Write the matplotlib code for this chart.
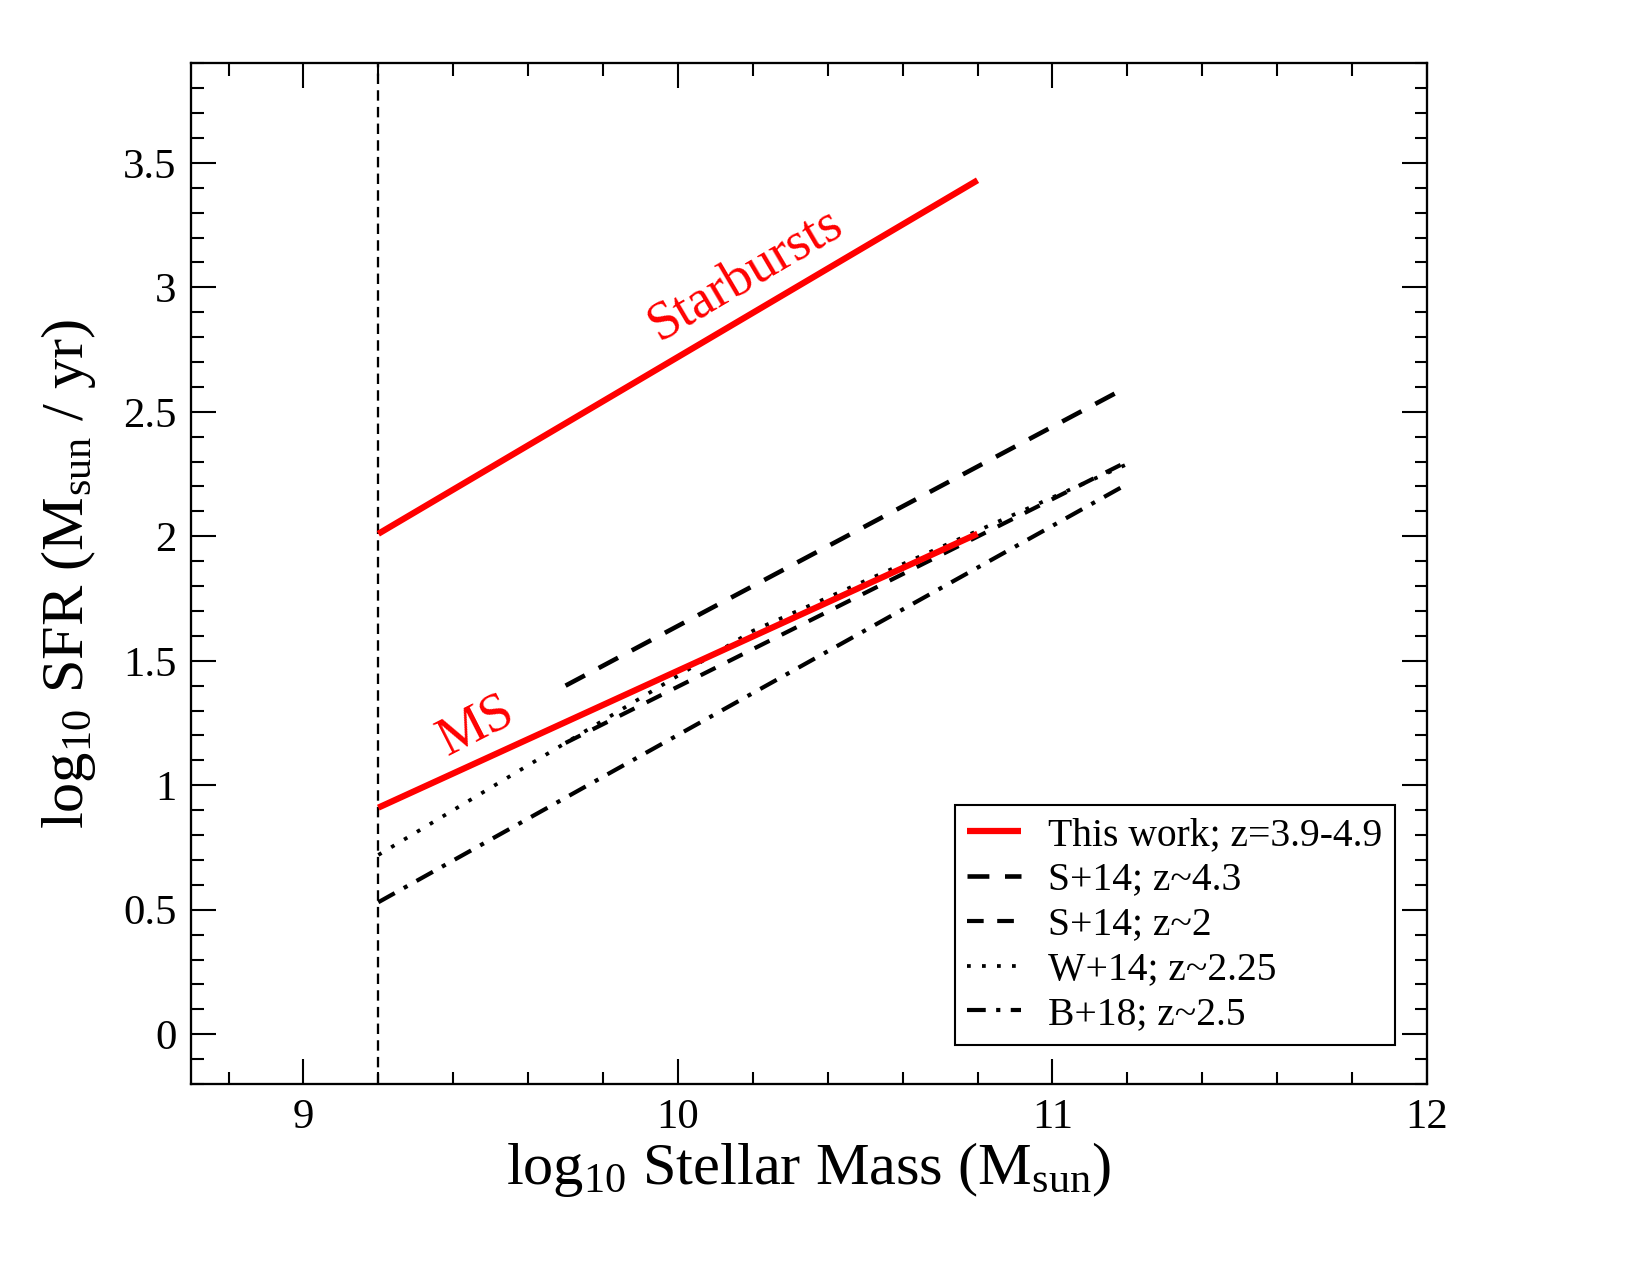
import matplotlib
matplotlib.use("Agg")
import matplotlib.pyplot as plt
from matplotlib.ticker import MultipleLocator, FuncFormatter

plt.rcParams['font.family'] = ['Liberation Serif', 'DejaVu Serif']
plt.rcParams['mathtext.fontset'] = 'custom'
plt.rcParams['mathtext.rm'] = 'Liberation Serif'
plt.rcParams['mathtext.it'] = 'Liberation Serif:italic'
plt.rcParams['lines.scale_dashes'] = False

# ---- data ----
mass_ms = [9.2, 10.8]
sfr_ms = [0.91, 2.01]
mass_sb = [9.2, 10.8]
sfr_sb = [2.01, 3.43]
mass_s14_z43 = [9.7, 11.2]
sfr_s14_z43 = [1.40, 2.60]
mass_s14_z2 = [9.7, 11.2]
sfr_s14_z2 = [1.17, 2.30]
mass_w14 = [9.2, 10.2, 11.2]
sfr_w14 = [0.72, 1.62, 2.29]
mass_b18 = [9.2, 11.2]
sfr_b18 = [0.53, 2.21]
mass_cut = 9.2

labels = ["This work; z=3.9-4.9", "S+14; z~4.3", "S+14; z~2",
          "W+14; z~2.25", "B+18; z~2.5"]

fig = plt.figure(figsize=(11, 8.5), dpi=150)
ax = fig.add_axes([0.1158, 0.1498, 0.8648 - 0.1158, 0.9504 - 0.1498])

ax.axvline(mass_cut, color='black', lw=1.1, dashes=(5, 3))

h1, = ax.plot(mass_ms, sfr_ms, color='red', lw=3.0, solid_capstyle='butt', zorder=3)
ax.plot(mass_sb, sfr_sb, color='red', lw=3.0, solid_capstyle='butt', zorder=3)
h2, = ax.plot(mass_s14_z43, sfr_s14_z43, color='black', lw=2.2,
              dashes=(10.5, 7.5), dash_capstyle='butt')
h3, = ax.plot(mass_s14_z2, sfr_s14_z2, color='black', lw=2.0,
              dashes=(8.0, 6.5), dash_capstyle='butt')
h4, = ax.plot(mass_w14, sfr_w14, color='black', lw=1.8,
              dashes=(1.8, 5.4), dash_capstyle='butt')
h5, = ax.plot(mass_b18, sfr_b18, color='black', lw=2.0,
              dashes=(9, 5, 2, 5), dash_capstyle='butt')

ax.text(10.18, 3.05, "Starbursts", color='red', fontsize=26,
        rotation=30.5, ha='center', va='center', rotation_mode='anchor')
ax.text(9.46, 1.24, "MS", color='red', fontsize=26,
        rotation=27, ha='center', va='center', rotation_mode='anchor')

ax.set_xlim(8.7, 12.0)
ax.set_ylim(-0.2, 3.9)
ax.xaxis.set_major_locator(MultipleLocator(1))
ax.xaxis.set_minor_locator(MultipleLocator(0.2))
ax.yaxis.set_major_locator(MultipleLocator(0.5))
ax.yaxis.set_minor_locator(MultipleLocator(0.1))
fmt = FuncFormatter(lambda v, p: "%g" % round(v, 3))
ax.xaxis.set_major_formatter(fmt)
ax.yaxis.set_major_formatter(fmt)
ax.tick_params(which='both', direction='in', top=True, right=True, width=1.0)
ax.tick_params(which='major', length=12, labelsize=20.5, pad=7)
ax.tick_params(which='minor', length=6)
for s in ax.spines.values():
    s.set_linewidth(1.1)

ax.set_xlabel(r"log$_{10}$ Stellar Mass (M$_{\mathrm{sun}}$)", fontsize=29, labelpad=1.5)
ax.set_ylabel(r"log$_{10}$ SFR (M$_{\mathrm{sun}}$ / yr)", fontsize=29, labelpad=12)

leg = ax.legend([h1, h2, h3, h4, h5], labels, loc='lower left',
                bbox_to_anchor=(0.6185, 0.038), fontsize=19, frameon=True,
                fancybox=False, edgecolor='black', framealpha=1,
                handlelength=1.35, handletextpad=0.7, labelspacing=0.2,
                borderpad=0.3, borderaxespad=0)
leg.get_frame().set_linewidth(1.0)

fig.savefig("out.png", dpi=150)
